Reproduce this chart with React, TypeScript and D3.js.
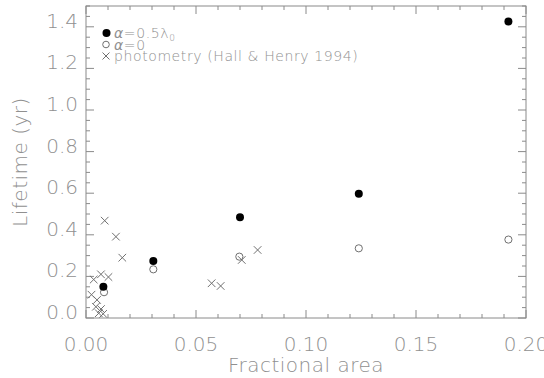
import React from "react";
import * as d3 from "d3";

const W = 544;
const H = 378;
const M = { left: 86, right: 18, top: 6, bottom: 60 };

const xTicks = [0, 0.05, 0.1, 0.15, 0.2];
const yTicks = [0, 0.2, 0.4, 0.6, 0.8, 1.0, 1.2, 1.4];

const filledX = [0.0079, 0.0306, 0.0700, 0.1240, 0.1920];
const filledY = [0.150, 0.274, 0.484, 0.597, 1.425];

const openX = [0.0082, 0.0306, 0.0697, 0.1240, 0.1920];
const openY = [0.124, 0.234, 0.295, 0.335, 0.377];

const crossX = [0.0085, 0.0136, 0.0165, 0.0035, 0.0068, 0.0102, 0.0025, 0.0050, 0.0045, 0.0068, 0.0058, 0.0078, 0.0571, 0.0612, 0.0708, 0.0780];
const crossY = [0.468, 0.391, 0.290, 0.185, 0.210, 0.197, 0.112, 0.087, 0.054, 0.043, 0.023, 0.020, 0.167, 0.154, 0.279, 0.327];

const AX = "#8a8a8a";
const TXT = "#909090";
const FONT = "'DejaVu Sans', sans-serif";

export default function App() {
  const x = d3.scaleLinear().domain([0, 0.2]).range([M.left, W - M.right]);
  const y = d3.scaleLinear().domain([0, 1.5]).range([H - M.bottom, M.top]);
  const x0 = x.range()[0], x1 = x.range()[1];
  const y0 = y.range()[0], y1 = y.range()[1];

  const xMinor = d3.range(0, 0.2001, 0.01);
  const yMinor = d3.range(0, 1.5001, 0.05);

  return (
    <svg width={W} height={H} style={{ position: "absolute", left: 0, top: 0, background: "#fff" }}>
      <rect x={x0} y={y1} width={x1 - x0} height={y0 - y1} fill="none" stroke={AX} strokeWidth={1} />
      {xMinor.map((v, i) => {
        const major = Math.abs(v / 0.05 - Math.round(v / 0.05)) < 1e-6;
        const len = major ? 8 : 4;
        return (
          <g key={"xm" + i}>
            <line x1={x(v)} x2={x(v)} y1={y0} y2={y0 - len} stroke={AX} />
            <line x1={x(v)} x2={x(v)} y1={y1} y2={y1 + len} stroke={AX} />
          </g>
        );
      })}
      {yMinor.map((v, i) => {
        const major = Math.abs(v / 0.2 - Math.round(v / 0.2)) < 1e-6;
        const len = major ? 8 : 4;
        return (
          <g key={"ym" + i}>
            <line x1={x0} x2={x0 + len} y1={y(v)} y2={y(v)} stroke={AX} />
            <line x1={x1} x2={x1 - len} y1={y(v)} y2={y(v)} stroke={AX} />
          </g>
        );
      })}
      {xTicks.map((v, i) => (
        <text key={"xt" + i} x={x(v)} y={y0 + 33} textAnchor="middle" fontFamily={FONT} fontWeight={200} fontSize={20} fill={TXT}>
          {v.toFixed(2)}
        </text>
      ))}
      {yTicks.map((v, i) => (
        <text key={"yt" + i} x={x0 - 8} y={y(v) + 1} textAnchor="end" fontFamily={FONT} fontWeight={200} fontSize={20} fill={TXT}>
          {v.toFixed(1)}
        </text>
      ))}
      <text x={(x0 + x1) / 2} y={H - 6} textAnchor="middle" fontFamily={FONT} fontWeight={200} fontSize={20} letterSpacing={0.5} fill={TXT}>
        Fractional area
      </text>
      <text transform={`translate(27,${(y0 + y1) / 2}) rotate(-90)`} textAnchor="middle" fontFamily={FONT} fontWeight={200} fontSize={20} letterSpacing={0.5} fill={TXT}>
        Lifetime (yr)
      </text>

      {crossX.map((v, i) => {
        const cx = x(v), cy = y(crossY[i]), s = 3.8;
        return (
          <path key={"c" + i} d={`M${cx - s},${cy - s}L${cx + s},${cy + s}M${cx - s},${cy + s}L${cx + s},${cy - s}`} stroke="#707070" strokeWidth={1} fill="none" />
        );
      })}
      {openX.map((v, i) => (
        <circle key={"o" + i} cx={x(v)} cy={y(openY[i])} r={3.6} fill="none" stroke="#707070" strokeWidth={1} />
      ))}
      {filledX.map((v, i) => (
        <circle key={"f" + i} cx={x(v)} cy={y(filledY[i])} r={4} fill="#000" />
      ))}

      <g fontFamily={FONT} fontWeight={200} fontSize={14} letterSpacing={0.6} fill={TXT}>
        <circle cx={106.5} cy={33} r={4} fill="#000" />
        <text x={114} y={38}>
          <tspan fontStyle="italic">α</tspan>=0.5λ<tspan fontSize={9} dy={2.5}>0</tspan>
        </text>
        <circle cx={106} cy={44.5} r={3.3} fill="none" stroke="#707070" />
        <text x={114} y={49.5}>
          <tspan fontStyle="italic">α</tspan>=0
        </text>
        <path d={`M102.5,52.5L109.5,59.5M102.5,59.5L109.5,52.5`} stroke="#707070" fill="none" />
        <text x={114} y={61}>photometry (Hall &amp; Henry 1994)</text>
      </g>
    </svg>
  );
}
